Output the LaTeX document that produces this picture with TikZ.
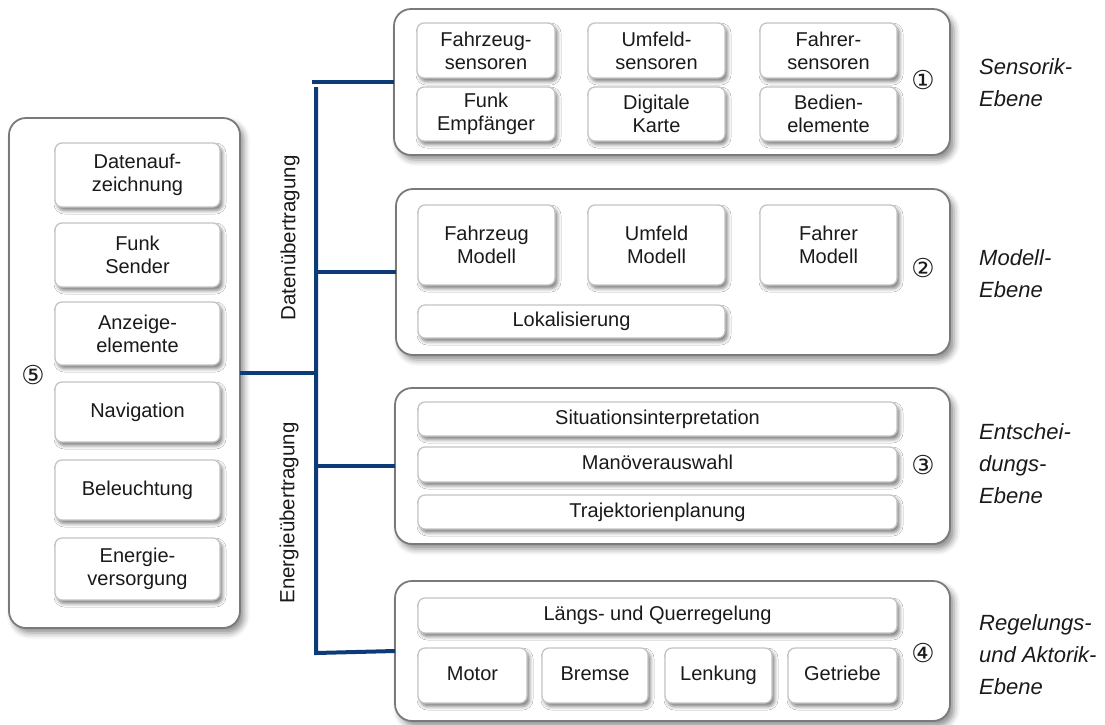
\documentclass[tikz,border=0pt]{standalone}
\usepackage{fontspec}
\setmainfont{Liberation Sans}
\newfontfamily\circfont{DejaVu Sans}
\usetikzlibrary{shadows.blur}

\definecolor{busblue}{HTML}{0D3B78}
\definecolor{outerline}{HTML}{7A7A7A}
\definecolor{innerline}{HTML}{C4C4C4}
\definecolor{txt}{HTML}{1A1A1A}

\tikzset{
  layer/.style={draw=outerline, line width=1.8pt, fill=white, rounded corners=17pt,
    blur shadow={shadow xshift=4pt, shadow yshift=-5pt, shadow blur radius=6pt, shadow opacity=45}},
  item/.style={draw=innerline, line width=1.3pt, fill=white, rounded corners=7pt,
    blur shadow={shadow xshift=2.5pt, shadow yshift=-3.5pt, shadow blur radius=3.5pt, shadow opacity=50},
    align=center, text=txt, font=\fontsize{20}{23}\selectfont},
  oneline/.style={item, text height=14.5pt, text depth=4pt},
  num/.style={font=\circfont\fontsize{26}{26}\selectfont, text=txt, inner sep=0pt},
  levellabel/.style={anchor=west, align=left, text=txt, inner sep=0pt,
    font=\itshape\fontsize{22}{32}\selectfont},
  busline/.style={draw=busblue, line width=4pt},
  bustext/.style={rotate=90, text=txt, font=\fontsize{20.5}{22}\selectfont}
}

% rounded box from its corners: style, name, x1, y1, x2, y2, text
\newcommand\mybox[7]{%
  \node[#1, inner sep=0pt, outer sep=0pt,
        minimum width={(#5-#3)*1pt}, minimum height={(#6-#4)*1pt}]
        (#2) at ({(#3+#5)/2},{(#4+#6)/2}) {#7};}

\begin{document}
\begin{tikzpicture}[x=1pt, y=-1pt]
\useasboundingbox (0,0) rectangle (1105,724);

% level frames
\mybox{layer}{L1}{394}{9}{950}{155}{}
\mybox{layer}{L2}{396}{189}{950}{355}{}
\mybox{layer}{L3}{395}{388}{950}{544}{}
\mybox{layer}{L4}{395}{581}{950}{721}{}
\mybox{layer}{L5}{9}{118}{240}{628}{}

% sensor level
\mybox{item}{fs}{417}{23}{555}{78}{Fahrzeug-\\sensoren}
\mybox{item}{us}{588}{23}{725}{78}{Umfeld-\\sensoren}
\mybox{item}{drs}{760}{23}{897}{78}{Fahrer-\\sensoren}
\mybox{item}{fe}{417}{87}{555}{141}{Funk\\Empfänger}
\mybox{item}{dk}{588}{87}{725}{141}{Digitale\\Karte}
\mybox{item}{be}{760}{87}{897}{141}{Bedien-\\elemente}

% model level
\mybox{item}{fm}{418}{205}{555}{285}{Fahrzeug\\Modell}
\mybox{item}{um}{588}{205}{725}{285}{Umfeld\\Modell}
\mybox{item}{dm}{760}{205}{897}{285}{Fahrer\\Modell}
\mybox{oneline}{lok}{418}{305}{725}{338}{Lokalisierung}

% decision level
\mybox{oneline}{si}{418}{402}{897}{436}{Situationsinterpretation}
\mybox{oneline}{ma}{418}{447}{897}{482}{Manöverauswahl}
\mybox{oneline}{tp}{418}{495}{897}{529}{Trajektorienplanung}

% control and actuator level
\mybox{oneline}{lq}{418}{598}{897}{633}{Längs- und Querregelung}
\mybox{oneline}{mo}{418}{648}{527}{703}{Motor}
\mybox{oneline}{br}{542}{648}{648}{703}{Bremse}
\mybox{oneline}{le}{665}{648}{772}{703}{Lenkung}
\mybox{oneline}{ge}{788}{648}{897}{703}{Getriebe}

% vehicle periphery
\mybox{item}{da}{55}{143}{220}{207}{Datenauf-\\zeichnung}
\mybox{item}{fsd}{55}{223}{220}{287}{Funk\\Sender}
\mybox{item}{an}{55}{302}{220}{365}{Anzeige-\\elemente}
\mybox{oneline}{na}{55}{382}{220}{442}{Navigation}
\mybox{oneline}{bl}{55}{460}{220}{520}{Beleuchtung}
\mybox{item}{ev}{55}{538}{220}{600}{Energie-\\versorgung}

% level numbers
\node[num] (n1) at (923,80) {①};
\node[num] (n2) at (923,268) {②};
\node[num] (n3) at (923,465) {③};
\node[num] (n4) at (923,653) {④};
\node[num] (n5) at (33,375) {⑤};

% level names
\node[levellabel] (t1) at (979,83) {Sensorik-\\Ebene};
\node[levellabel] (t2) at (979,274) {Modell-\\Ebene};
\node[levellabel] (t3) at (979,464) {Entschei-\\dungs-\\Ebene};
\node[levellabel] (t4) at (979,655) {Regelungs-\\und Aktorik-\\Ebene};

% transmission bus
\coordinate (bustop) at (316,87);
\coordinate (busbot) at (316,653);
\draw[busline] (L4.west) -- (busbot) -- (bustop);
\draw[busline] (L1.west) -- ++(-82,0);
\draw[busline] (L2.west) -- (L2.west -| bustop);
\draw[busline] (L3.west) -- (L3.west -| bustop);
\draw[busline] (L5.east) -- (L5.east -| bustop);

\node[bustext] (dt) at (290,238) {Datenübertragung};
\node[bustext] (et) at (289,513) {Energieübertragung};
\end{tikzpicture}
\end{document}
